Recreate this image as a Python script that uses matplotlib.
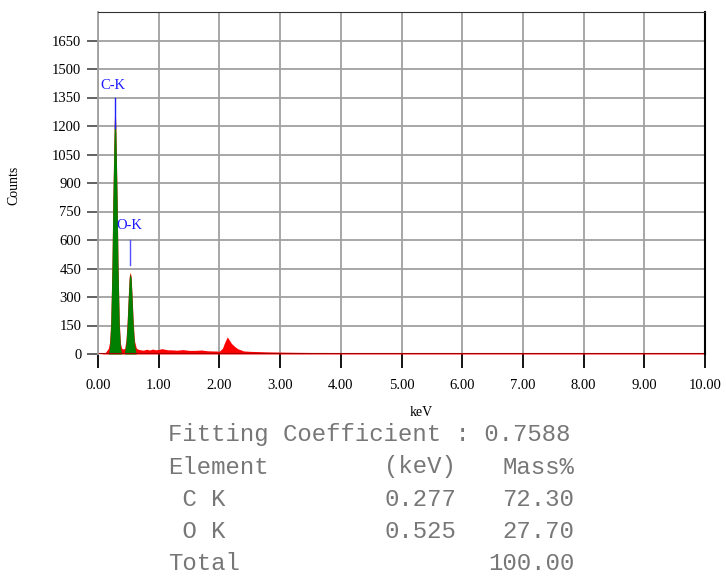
import matplotlib.pyplot as plt
import numpy as np

# spectrum (red)
energy = [0.00, 0.08, 0.12, 0.15, 0.17, 0.19, 0.21, 0.23, 0.245, 0.265, 0.28, 0.295,
          0.315, 0.33, 0.35, 0.37, 0.39, 0.42, 0.44, 0.46, 0.48, 0.50, 0.515, 0.53,
          0.545, 0.56, 0.58, 0.60, 0.63, 0.66, 0.70, 0.75, 0.80, 0.85, 0.90, 0.95,
          1.00, 1.05, 1.10, 1.15, 1.20, 1.30, 1.40, 1.50, 1.60, 1.70, 1.80, 1.90,
          2.00, 2.05, 2.08, 2.10, 2.13, 2.16, 2.20, 2.25, 2.30, 2.35, 2.40, 2.50,
          2.60, 2.70, 2.80, 3.00, 3.20, 3.50, 3.80, 4.00, 4.50, 5.00, 5.50, 6.00,
          7.00, 8.00, 9.00, 10.00]
counts = [0, 2, 8, 20, 30, 60, 170, 470, 820, 1170, 1355, 1170,
          820, 470, 170, 55, 30, 26, 30, 70, 170, 315, 410, 430,
          410, 315, 170, 70, 32, 25, 22, 20, 25, 21, 26, 22,
          24, 28, 25, 22, 22, 20, 23, 19, 19, 21, 17, 16,
          15, 30, 55, 70, 90, 75, 55, 40, 28, 22, 16, 14,
          13, 12, 11, 10, 9, 8, 8, 7, 6, 5, 5, 4,
          4, 3, 3, 3]

# fitted peaks (green)
c_energy = [0.17, 0.19, 0.21, 0.23, 0.245, 0.265, 0.28, 0.295, 0.315, 0.33, 0.35, 0.37, 0.39]
c_counts = [0, 30, 150, 450, 800, 1150, 1350, 1150, 800, 450, 150, 30, 0]
o_energy = [0.43, 0.46, 0.48, 0.50, 0.515, 0.53, 0.545, 0.56, 0.58, 0.60, 0.63]
o_counts = [0, 50, 150, 300, 400, 422, 400, 300, 150, 50, 0]

peak_labels = ["C-K", "O-K"]
peak_pos = [0.277, 0.525]

table_rows = [
    ("Fitting Coefficient : 0.7588", "", ""),
    ("Element", "(keV)", "Mass%"),
    (" C K", "0.277", "72.30"),
    (" O K", "0.525", "27.70"),
    ("Total", "", "100.00"),
]

plt.rcParams["font.family"] = "Liberation Serif"

fig = plt.figure(figsize=(7.26, 5.76), dpi=100)
ax = fig.add_axes([98 / 726, 1 - 354 / 576, 607 / 726, 342 / 576])

ax.fill_between(energy, counts, color="#ff0000", lw=0)
ax.fill_between(c_energy, c_counts, color="#008000", lw=0)
ax.fill_between(o_energy, o_counts, color="#008000", lw=0)
ax.plot([0, 10], [0, 0], color="#a00000", lw=1.5)

# peak markers
ax.plot([peak_pos[0]] * 2, [1190, 1350], color="#2020ff", lw=1)
ax.plot([peak_pos[1]] * 2, [467, 600], color="#5050ff", lw=1)
ax.text(0.04, 1380, peak_labels[0], color="#1a1aff", fontsize=10.5, va="bottom")
ax.text(0.31, 640, peak_labels[1], color="#1a1aff", fontsize=10.5, va="bottom")

ax.set_xlim(0, 10)
ax.set_ylim(0, 1800)
ax.set_xticks(np.arange(0, 11, 1))
ax.set_xticklabels(["%.2f" % v for v in range(11)])
ax.set_yticks(np.arange(0, 1651, 150))
ax.set_yticks(np.arange(0, 1801, 150), minor=True)
ax.grid(True, which="both", color="#a0a0a0", lw=1.3)
ax.set_axisbelow(True)
ax.tick_params(axis="both", labelsize=10.5)
ax.tick_params(axis="y", direction="out", length=8, width=1.3, color="#555555", pad=4)
ax.tick_params(axis="x", direction="out", length=10, width=1.3, color="black", pad=8)
ax.tick_params(which="minor", length=0)
ax.spines["left"].set_color("#a0a0a0")
ax.spines["left"].set_linewidth(1.3)
ax.spines["top"].set_color("#333333")
ax.spines["right"].set_color("black")
ax.spines["right"].set_linewidth(1.5)
ax.spines["bottom"].set_visible(False)

fig.text(421 / 726, 1 - 412 / 576, "keV", fontsize=10, ha="center", va="center")
fig.text(14 / 726, 1 - 185 / 576, "Counts", fontsize=10, rotation=90, ha="center", va="center")

# result table
row_y = [435, 467, 499, 531, 563]
for (c0, c1, c2), y in zip(table_rows, row_y):
    kw = dict(fontsize=17.3, family="Liberation Mono", color="#777777", va="center")
    fig.text(168 / 726, 1 - y / 576, c0, ha="left", **kw)
    if c1:
        fig.text(456 / 726, 1 - y / 576, c1, ha="right", **kw)
    if c2:
        fig.text(574 / 726, 1 - y / 576, c2, ha="right", **kw)

fig.savefig("out.png", dpi=100)
